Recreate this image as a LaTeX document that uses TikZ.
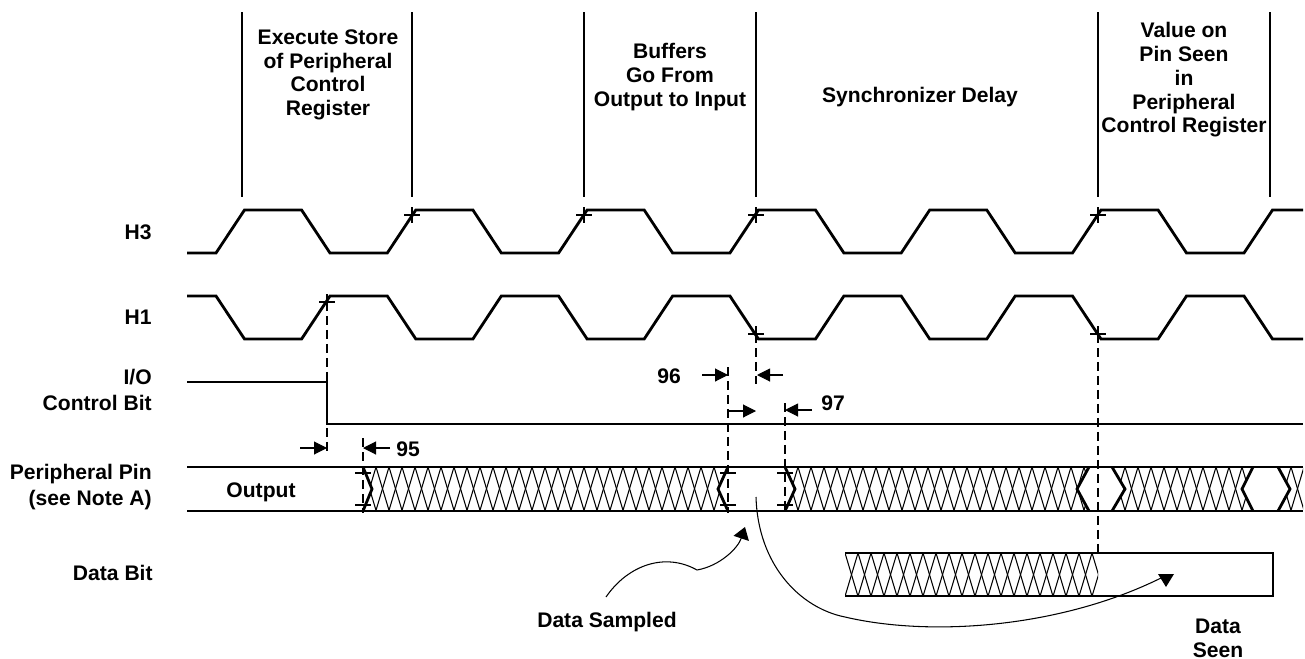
\documentclass[tikz,border=0pt]{standalone}
\usepackage{fontspec}
\setmainfont{Liberation Sans}
\usetikzlibrary{arrows.meta}

% diamond cross-hatch between #1 and #2, from #3 (top) to #4 (bottom)
\newcommand{\hatchlines}[4]{%
  \pgfmathtruncatemacro{\hn}{(#2-#1)/13+3}
  \foreach \i in {0,...,\hn}{
    \draw[hatchln] ({#1-13+13*\i},#3) -- ++({(#4-#3)*0.3},{#4-#3})
                   ({#1-13+13*\i},#3) -- ++({-(#4-#3)*0.3},{#4-#3});
  }}
\newcommand{\xhair}[2]{\draw[thinline] ({#1-8},#2) -- ({#1+8},#2) (#1,{#2-8}) -- (#1,{#2+8});}

\begin{document}
\begin{tikzpicture}[x=0.02cm, y=-0.02cm,
  sig/.style={line width=1.6pt, line join=miter},
  thinline/.style={line width=0.6pt},
  guide/.style={line width=0.6pt, dash pattern=on 0.18cm off 0.1cm},
  hatchln/.style={line width=0.6pt},
  lbl/.style={font=\bfseries\fontsize{12}{13.5}\selectfont, align=center, inner sep=0pt},
  side/.style={font=\bfseries\fontsize{12}{15}\selectfont, align=right, anchor=east, inner sep=0pt},
  tim/.style={thinline, -{Triangle[length=0.26cm, width=0.26cm]}},
]
\useasboundingbox (0,0) rectangle (1305,659);

% phase dividers and headings
\foreach \x in {242,412,584,756,1098,1270}
  \draw[thinline] (\x,12) -- (\x,197);
\node[lbl] (store) at (328,75) {Execute Store\\of Peripheral\\Control\\Register};
\node[lbl] (buffers) at (670,77) {Buffers\\Go From\\Output to Input};
\node[lbl] (syncdly) at (920,97) {Synchronizer Delay};
\node[lbl] (pinseen) at (1184,80) {Value on\\Pin Seen\\in\\Peripheral\\Control Register};

% signal names
\node[side] (h3lbl) at (152,232) {H3};
\node[side] (h1lbl) at (152,317) {H1};
\node[side] (iolbl) at (152,390) {I/O\\Control Bit};
\node[side] (pinlbl) at (152,487) {Peripheral Pin\\(see Note A)};
\node[side] (dblbl) at (153,573) {Data Bit};

% clocks
\draw[sig] (187,253) \foreach \k in {0,...,5}{
    -- ({216+171.3*\k},253) -- ({244.5+171.3*\k},210)
    -- ({301.6+171.3*\k},210) -- ({330+171.3*\k},253)}
  -- (1244,253) -- (1272.5,210) -- (1303,210);
\draw[sig] (187,296) \foreach \k in {0,...,5}{
    -- ({216+171.3*\k},296) -- ({244.5+171.3*\k},339)
    -- ({301.6+171.3*\k},339) -- ({330+171.3*\k},296)}
  -- (1244,296) -- (1272.5,339) -- (1303,339);
\foreach \x in {412,584,756,1098} {\xhair{\x}{215}}
\xhair{327}{302}
\xhair{756}{334}
\xhair{1098}{334}

% I/O control bit
\draw[sig] (187,382) -- (327,382) -- (327,424) -- (1303,424);

% guides
\draw[guide] (327,302) -- (327,455);
\draw[guide] (363,438) -- (363,513);
\draw[guide] (728,367) -- (728,513);
\draw[guide] (756,334) -- (756,384);
\draw[guide] (785,403) -- (785,513);
\draw[guide] (1098,334) -- (1098,553);

% timing parameters
\coordinate (a95) at (300,448); \coordinate (e95a) at (327,448);
\coordinate (b95) at (390,448); \coordinate (e95b) at (363,448);
\draw[tim] (a95) -- (e95a);
\draw[tim] (b95) -- (e95b);
\node[lbl] (p95) at (408,449) {95};
\coordinate (a96) at (702,375); \coordinate (e96a) at (728,375);
\coordinate (b96) at (783,375); \coordinate (e96b) at (757,375);
\draw[tim] (a96) -- (e96a);
\draw[tim] (b96) -- (e96b);
\node[lbl] (p96) at (669,376) {96};
\coordinate (a97) at (729,411); \coordinate (e97a) at (756,411);
\coordinate (b97) at (812,410); \coordinate (e97b) at (785,410);
\draw[tim] (a97) -- (e97a);
\draw[tim] (b97) -- (e97b);
\node[lbl] (p97) at (833,403) {97};

% peripheral pin
\begin{scope}
  \clip (363,467) -- (728,467) -- (718,489) -- (728,511) -- (363,511) -- (372,489) -- cycle;
  \hatchlines{363}{728}{467}{511}
\end{scope}
\begin{scope}
  \clip (785,467) -- (1089,467) -- (1077,489) -- (1089,511) -- (785,511) -- (795,489) -- cycle;
  \hatchlines{785}{1089}{467}{511}
\end{scope}
\begin{scope}
  \clip (1112,467) -- (1253,467) -- (1242,489) -- (1253,511) -- (1112,511) -- (1125,489) -- cycle;
  \hatchlines{1112}{1253}{467}{511}
\end{scope}
\begin{scope}
  \clip (1278,467) -- (1303,467) -- (1303,511) -- (1278,511) -- (1290,489) -- cycle;
  \hatchlines{1278}{1303}{467}{511}
\end{scope}
\draw[sig] (187,467) -- (1303,467);
\draw[sig] (187,511) -- (1303,511);
\foreach \xa/\xb in {363/372,728/718,785/795,1089/1077,1112/1125,1253/1242,1278/1290}
  \draw[sig] (\xa,467) -- (\xb,489) -- (\xa,511);
\foreach \x in {363,728,785}
  \draw[thinline] ({\x-8},473) -- ({\x+8},473) ({\x-8},505) -- ({\x+8},505);
\node[lbl] (outlbl) at (261,492) {Output};

% data bit
\begin{scope}
  \clip (845,553) rectangle (1098,596);
  \hatchlines{845}{1098}{553}{596}
\end{scope}
\draw[sig] (845,553) -- (1273,553) -- (1273,596) -- (845,596);

% annotations
\coordinate (sampfrom) at (606,597);
\coordinate (samppt) at (745,527);
\node[lbl] (sampled) at (607,622) {Data Sampled};
\draw[thinline, -{Triangle[length=0.24cm, width=0.32cm]}] (sampfrom)
  .. controls (628,565) and (665,552) .. (697,570)
  .. controls (720,566) and (738,548) .. (samppt);
\coordinate (pinpt) at (756,497);
\coordinate (seenpt) at (1161,578);
\node[lbl] (dseen) at (1218,638) {Data\\Seen};
\draw[thinline] (pinpt) .. controls (758,565) and (800,608) .. (845,617)
  .. controls (930,637) and (1060,628) .. (seenpt);
\fill (1158,574) -- (1174,574) -- (1166,587) -- cycle;
\end{tikzpicture}
\end{document}
